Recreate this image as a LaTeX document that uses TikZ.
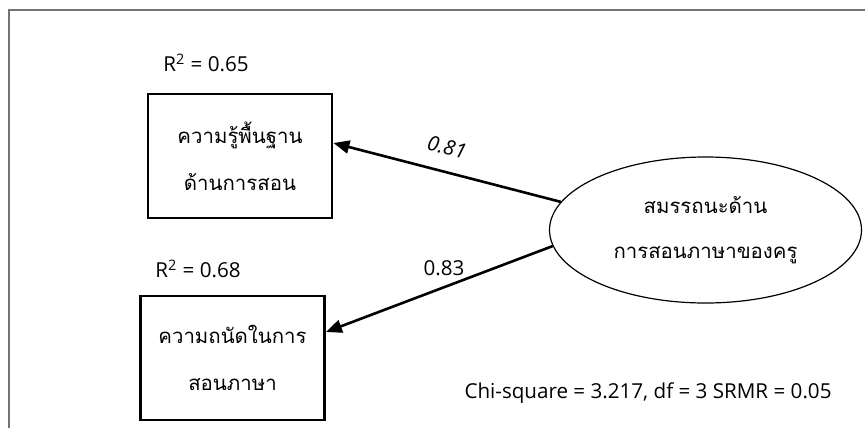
\documentclass[tikz,border=0pt]{standalone}
\usepackage{fontspec}
\setmainfont{Open Sans}
\newfontfamily\thaifont[Script=Thai]{Loma}
\usetikzlibrary{positioning,shapes.geometric,arrows.meta,calc}

\begin{document}
\begin{tikzpicture}[
    x=0.5pt, y=-0.5pt,
    var/.style={rectangle, draw, line width=1.4pt, minimum width=92pt, minimum height=62pt, align=center, font=\thaifont\fontsize{10.2}{23.5}\selectfont},
    latent/.style={ellipse, draw, line width=0.6pt, minimum width=156pt, minimum height=73pt, inner sep=0pt, align=center, font=\thaifont\fontsize{10.2}{22.5}\selectfont},
    arrow/.style={-{Triangle[length=8pt,width=6.5pt]}, line width=1.3pt},
    signal/.style={font=\fontsize{10.3}{12}\selectfont},
    frame/.style={draw=gray!90!black, line width=0.8pt}
]
\useasboundingbox (0,0) rectangle (865,428);

% Outer frame
\draw[frame] (9,428) -- (9,10) -- (865,10);

% Main blocks
\node[var] (basic) at (240,156) {ความรู้พื้นฐาน\\ด้านการสอน};
\node[var] (aptitude) at (232.5,358) {ความถนัดในการ\\สอนภาษา};
\node[latent] (competence) at (705.5,230) {สมรรถนะด้าน\\การสอนภาษาของครู};

% Paths
\draw[arrow] (competence.169) -- ($(basic.east)+(0,-13)$);
\draw[arrow] (competence.186) -- ($(aptitude.east)+(0,-26)$);

% Labels
\node[signal] (r2basic) at (206,63) {R\textsuperscript{2} = 0.65};
\node[signal] (r2aptitude) at (198,269) {R\textsuperscript{2} = 0.68};
\node[signal, rotate=-14] (coefbasic) at (447,147) {\itshape 0.81};
\node[signal] (coefaptitude) at (444,268) {0.83};
\node[signal] (fit) at (648,393) {Chi-square = 3.217, df = 3 SRMR = 0.05};

\end{tikzpicture}
\end{document}
